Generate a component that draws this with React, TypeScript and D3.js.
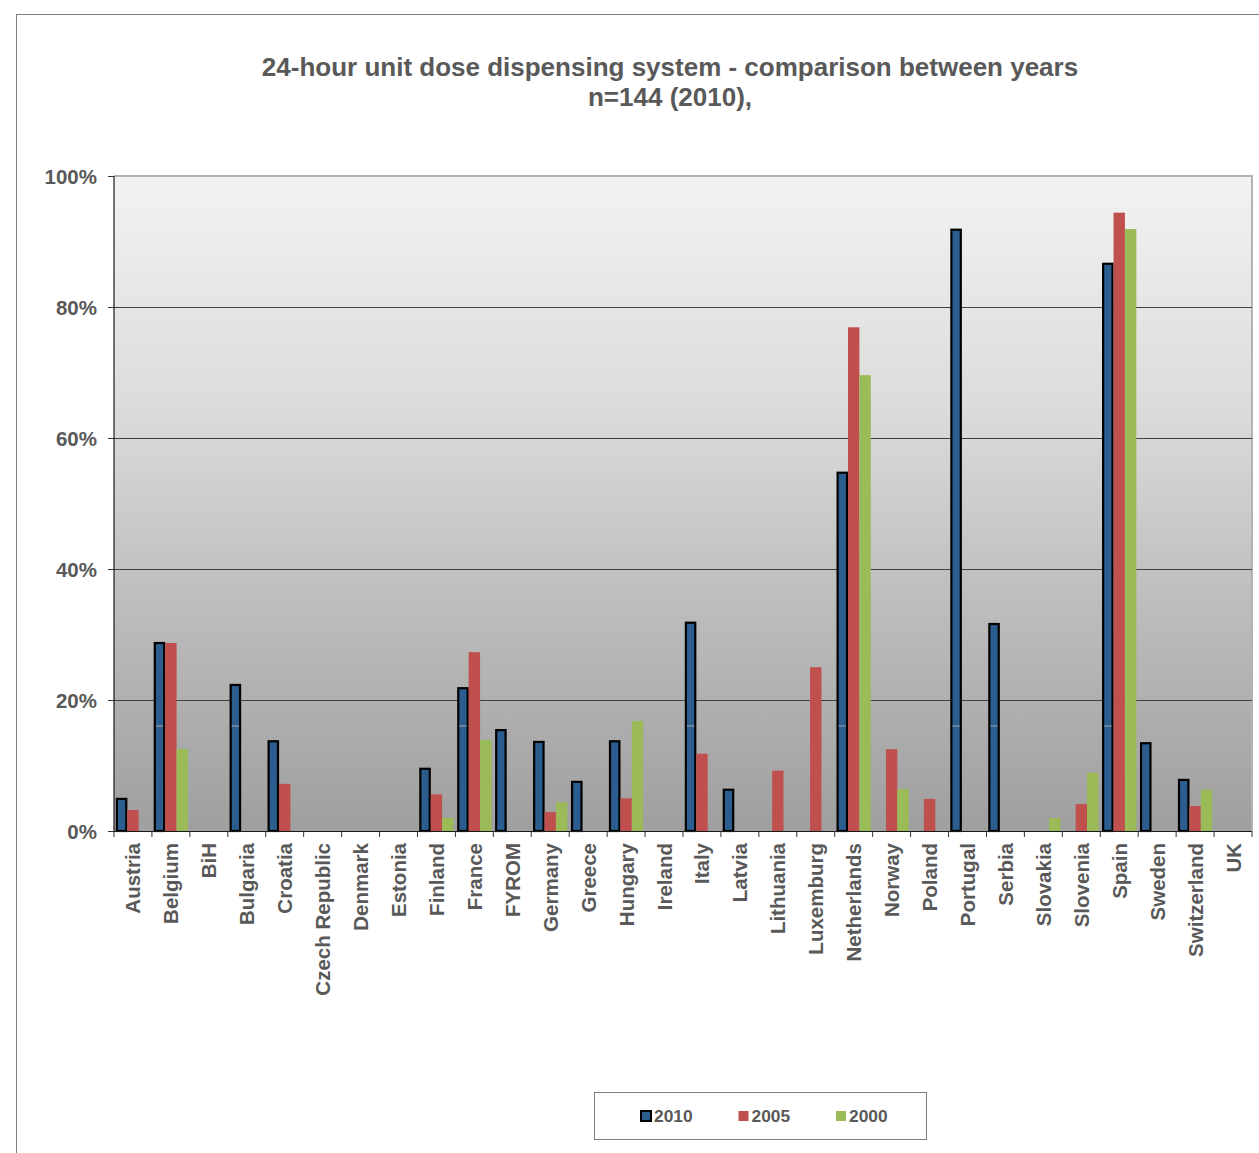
import React from "react";
import * as d3 from "d3";

const countries = ["Austria","Belgium","BiH","Bulgaria","Croatia","Czech Republic","Denmark","Estonia","Finland","France","FYROM","Germany","Greece","Hungary","Ireland","Italy","Latvia","Lithuania","Luxemburg","Netherlands","Norway","Poland","Portugal","Serbia","Slovakia","Slovenia","Spain","Sweden","Switzerland","UK"];
const years = ["2010","2005","2000"];
const values2010 = [4.9,28.7,0,22.3,13.7,0,0,0,9.5,21.8,15.4,13.6,7.5,13.7,0,31.8,6.3,0,0,54.7,0,0,91.8,31.6,0,0,86.6,13.4,7.8,0];
const values2005 = [3.2,28.7,0,0,7.2,0,0,0,5.6,27.3,0,2.9,0,5.0,0,11.8,0,9.2,25.0,76.9,12.5,4.9,0,0,0,4.1,94.4,0,3.8,0];
const values2000 = [0,12.5,0,0,0,0,0,0,2.0,13.9,0,4.4,0,16.8,0,0,0,0,0,69.6,6.4,0,0,0,2.0,8.9,91.9,0,6.3,0];
const yTicks = [0,20,40,60,80,100];
const titleLines = ["24-hour unit dose dispensing system - comparison between years","n=144 (2010),"];

const colors = ["#2c5d8f","#c0504d","#9bbb59"];
const FONT = "'Liberation Sans', Arial, sans-serif";
const TXT = "#595959";

export default function App() {
  const left = 114, right = 1252, top = 176, bottom = 831;
  const x = d3.scaleBand().domain(countries).range([left, right]).paddingInner(0).paddingOuter(0);
  const bw = x.bandwidth();
  const barW = 11.4;
  const groupOff = (bw - barW * 3) / 2;
  const y = d3.scaleLinear().domain([0, 100]).range([bottom, top]);
  const series = [values2010, values2005, values2000];

  return (
    <svg width={1259} height={1153} style={{ position: "absolute", left: 0, top: 0, display: "block" }} fontFamily={FONT}>
      <defs>
        <linearGradient id="bg" x1="0" y1="0" x2="0" y2="1">
          <stop offset="0" stopColor="#f2f2f2" />
          <stop offset="0.35" stopColor="#dcdcdc" />
          <stop offset="0.65" stopColor="#bdbdbd" />
          <stop offset="1" stopColor="#9f9f9f" />
        </linearGradient>
      </defs>
      <rect x={0} y={0} width={1259} height={1153} fill="#fff" />
      <rect x={16.5} y={14.5} width={1300} height={1200} fill="#fff" stroke="#7f7f7f" strokeWidth={1} />
      {titleLines.map((t, i) => (
        <text key={i} x={670} y={76 + i * 30} textAnchor="middle" fontSize={26} fontWeight="bold" fill={TXT}>{t}</text>
      ))}
      <rect x={left} y={top} width={right - left} height={bottom - top} fill="url(#bg)" />
      <path d={`M${left},${top}H${right}V${bottom}`} fill="none" stroke="#b3b3b3" strokeWidth={2} />
      {yTicks.filter(t => t > 0 && t < 100).map(t => (
        <line key={t} x1={left} x2={right} y1={Math.round(y(t)) + 0.5} y2={Math.round(y(t)) + 0.5} stroke="#404040" strokeWidth={1} />
      ))}
      {series.map((vals, si) =>
        vals.map((v, ci) => {
          if (v <= 0) return null;
          const bx = (x(countries[ci]) as number) + groupOff + si * barW;
          const by = y(v);
          if (si === 0) {
            return (
              <g key={`${si}-${ci}`}>
                <rect x={bx + 1} y={by} width={barW - 2} height={bottom - by} fill={colors[0]} stroke="#000" strokeWidth={2.2} />
                <line x1={bx + 2} x2={bx + barW - 2} y1={726} y2={726} stroke="#a8a8a8" strokeWidth={1} opacity={by < 724 ? 1 : 0} />
              </g>
            );
          }
          return <rect key={`${si}-${ci}`} x={bx} y={by} width={barW} height={bottom - by} fill={colors[si]} />;
        })
      )}
      <line x1={left} x2={left} y1={top} y2={bottom} stroke="#1a1a1a" strokeWidth={1.2} />
      <line x1={left} x2={right} y1={bottom + 0.5} y2={bottom + 0.5} stroke="#1a1a1a" strokeWidth={1.2} />
      {yTicks.map(t => (
        <g key={t}>
          <line x1={left - 6} x2={left} y1={Math.round(y(t)) + 0.5} y2={Math.round(y(t)) + 0.5} stroke="#333" strokeWidth={1} />
          <text x={97} y={y(t) + 7.5} textAnchor="end" fontSize={20.5} fontWeight="bold" fill={TXT}>{t}%</text>
        </g>
      ))}
      {countries.concat(["__end"]).map((c, i) => {
        const px = left + i * bw;
        return <line key={c} x1={px} x2={px} y1={bottom} y2={bottom + 6} stroke="#333" strokeWidth={1} />;
      })}
      {countries.map(c => {
        const cx = (x(c) as number) + bw / 2;
        return (
          <text key={c} transform={`translate(${cx + 7.5},${843}) rotate(-90)`} textAnchor="end" fontSize={20.5} fontWeight="bold" fill={TXT}>{c}</text>
        );
      })}
      <rect x={594.5} y={1092.5} width={332} height={47} fill="#fff" stroke="#7f7f7f" strokeWidth={1} />
      {years.map((yr, i) => {
        const lx = 641 + i * 97.5;
        return (
          <g key={yr}>
            <rect x={lx} y={1111} width={10} height={10} fill={colors[i]} stroke={i === 0 ? "#000" : "none"} strokeWidth={2} />
            <text x={lx + 13} y={1122} fontSize={17.4} fontWeight="bold" fill={TXT}>{yr}</text>
          </g>
        );
      })}
    </svg>
  );
}
